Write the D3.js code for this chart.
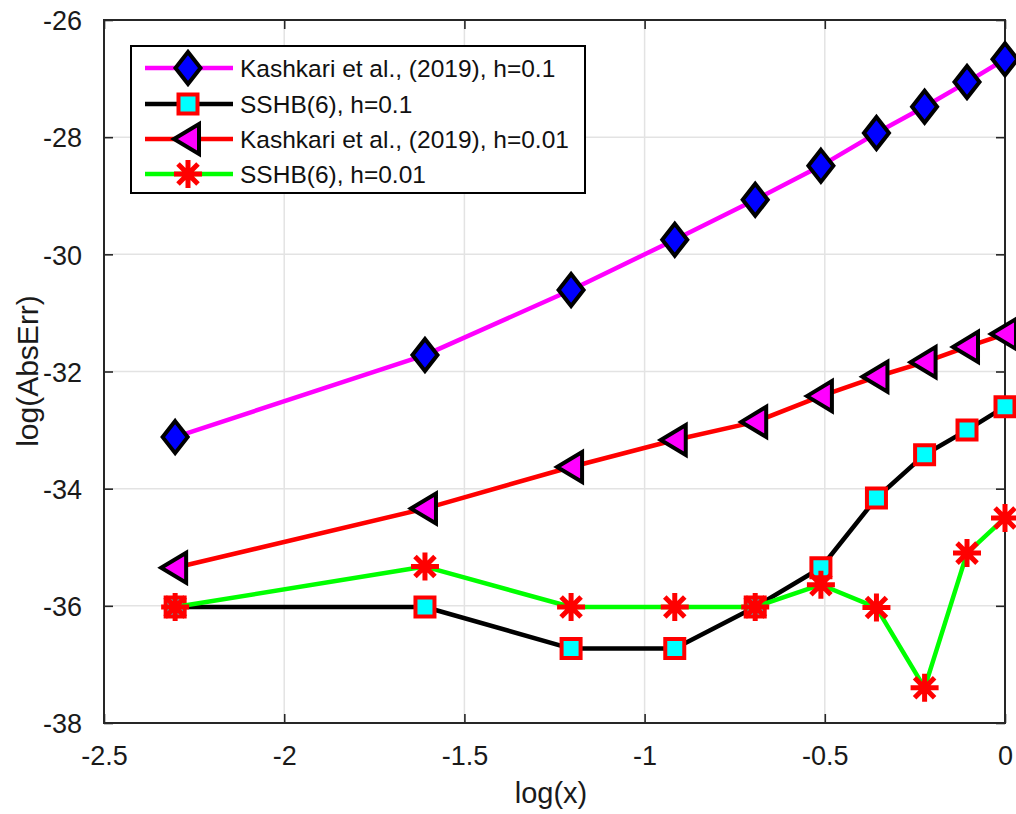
<!DOCTYPE html>
<html>
<head>
<meta charset="utf-8">
<script src="https://cdn.jsdelivr.net/npm/d3@7"></script>
<style>
  html, body { margin: 0; padding: 0; background: #ffffff; }
  svg { display: block; font-family: "Liberation Sans", Arial, Helvetica, sans-serif; }
</style>
</head>
<body>
<svg id="chart" width="1016" height="814"></svg>
<script>
// log(x) for x = 0.1 ... 1.0
const logX = [-2.3026, -1.6094, -1.2040, -0.9163, -0.6931, -0.5108, -0.3567, -0.2231, -0.1054, 0.0];

// log of absolute error for each method
const kashkariH01  = [-33.12, -31.72, -30.61, -29.75, -29.07, -28.49, -27.93, -27.48, -27.06, -26.67];
const sshbH01      = [-36.02, -36.02, -36.73, -36.73, -36.02, -35.35, -34.16, -33.42, -33.00, -32.60];
const kashkariH001 = [-35.35, -34.34, -33.63, -33.17, -32.86, -32.42, -32.09, -31.84, -31.58, -31.36];
const sshbH001     = [-36.02, -35.33, -36.02, -36.02, -36.02, -35.64, -36.03, -37.40, -35.10, -34.50];

const seriesNames = [
  "Kashkari et al., (2019), h=0.1",
  "SSHB(6), h=0.1",
  "Kashkari et al., (2019), h=0.01",
  "SSHB(6), h=0.01"
];

const xTicks = [-2.5, -2, -1.5, -1, -0.5, 0];
const yTicks = [-38, -36, -34, -32, -30, -28, -26];
const xDomain = [-2.5, 0];
const yDomain = [-38, -26];
const xLabel = "log(x)";
const yLabel = "log(AbsErr)";

const series = [
  { name: seriesNames[0], values: kashkariH01,  line: "#ff00ff", marker: "diamond",  fill: "#0000ff", edge: "#000000" },
  { name: seriesNames[1], values: sshbH01,      line: "#000000", marker: "square",   fill: "#00ffff", edge: "#ff0000" },
  { name: seriesNames[2], values: kashkariH001, line: "#ff0000", marker: "triangle", fill: "#ff00ff", edge: "#000000" },
  { name: seriesNames[3], values: sshbH001,     line: "#00ff00", marker: "asterisk", fill: "none",    edge: "#ff0000" }
];

const svg = d3.select("#chart");
const plot = { left: 104, right: 1005, top: 20, bottom: 723 };

const x = d3.scaleLinear().domain(xDomain).range([plot.left, plot.right]);
const y = d3.scaleLinear().domain(yDomain).range([plot.bottom, plot.top]);

const axisColor = "#262626";
const gridColor = "#e3e3e3";

// grid
const grid = svg.append("g");
grid.selectAll("line.gx").data(xTicks).join("line")
  .attr("x1", d => x(d)).attr("x2", d => x(d))
  .attr("y1", plot.top).attr("y2", plot.bottom)
  .attr("stroke", gridColor).attr("stroke-width", 1.5);
grid.selectAll("line.gy").data(yTicks).join("line")
  .attr("x1", plot.left).attr("x2", plot.right)
  .attr("y1", d => y(d)).attr("y2", d => y(d))
  .attr("stroke", gridColor).attr("stroke-width", 1.5);

// axes (ticks point inward, box on all four sides)
const tickLen = 9;
const fmt = d => d3.format("")(d).replace("−", "-");

const gx = svg.append("g").attr("transform", `translate(0,${plot.bottom})`)
  .call(d3.axisBottom(x).tickValues(xTicks).tickSizeInner(-tickLen).tickSizeOuter(0).tickPadding(23).tickFormat(fmt));
const gxTop = svg.append("g").attr("transform", `translate(0,${plot.top})`)
  .call(d3.axisTop(x).tickValues(xTicks).tickSizeInner(-tickLen).tickSizeOuter(0).tickFormat(""));
const gy = svg.append("g").attr("transform", `translate(${plot.left},0)`)
  .call(d3.axisLeft(y).tickValues(yTicks).tickSizeInner(-tickLen).tickSizeOuter(0).tickPadding(22).tickFormat(fmt));
const gyRight = svg.append("g").attr("transform", `translate(${plot.right},0)`)
  .call(d3.axisRight(y).tickValues(yTicks).tickSizeInner(-tickLen).tickSizeOuter(0).tickFormat(""));

[gx, gxTop, gy, gyRight].forEach(g => {
  g.select(".domain").remove();
  g.selectAll(".tick line").attr("stroke", axisColor).attr("stroke-width", 1.6);
  g.selectAll(".tick text").attr("fill", "#1a1a1a").style("font-size", "27px");
});
gx.selectAll(".tick text").attr("dy", "0.71em");
gy.selectAll(".tick text").attr("dy", "0.36em");

svg.append("rect")
  .attr("x", plot.left).attr("y", plot.top)
  .attr("width", plot.right - plot.left).attr("height", plot.bottom - plot.top)
  .attr("fill", "none").attr("stroke", axisColor).attr("stroke-width", 2);

// axis labels
svg.append("text").attr("x", 551).attr("y", 803)
  .attr("text-anchor", "middle").attr("fill", "#1a1a1a").style("font-size", "29px").text(xLabel);
svg.append("text").attr("transform", "translate(38,371) rotate(-90)")
  .attr("text-anchor", "middle").attr("fill", "#1a1a1a").style("font-size", "30px").text(yLabel);

// marker shapes
function markerPath(kind) {
  switch (kind) {
    case "diamond":  return "M0,-16L12.5,0L0,16L-12.5,0Z";
    case "square":   return "M-9.5,-9.5L9.5,-9.5L9.5,9.5L-9.5,9.5Z";
    case "triangle": return "M-14,0L11,-15L11,15Z";
    case "asterisk": return "M0,-14L0,14M-14,0L14,0M-10,-10L10,10M-10,10L10,-10";
  }
}
function drawMarker(g, s, cx, cy) {
  g.append("path")
    .attr("transform", `translate(${cx},${cy})`)
    .attr("d", markerPath(s.marker))
    .attr("fill", s.fill)
    .attr("stroke", s.edge)
    .attr("stroke-width", s.marker === "asterisk" ? 5 : 4)
    .attr("stroke-linejoin", "miter");
}

const line = d3.line().x((d, i) => x(logX[i])).y(d => y(d));

series.forEach(s => {
  const g = svg.append("g");
  g.append("path").datum(s.values)
    .attr("d", line)
    .attr("fill", "none")
    .attr("stroke", s.line)
    .attr("stroke-width", 4.5)
    .attr("stroke-linejoin", "round");
  s.values.forEach((v, i) => drawMarker(g, s, x(logX[i]), y(v)));
});

// legend
const legend = svg.append("g");
legend.append("rect")
  .attr("x", 131).attr("y", 46).attr("width", 454).attr("height", 147)
  .attr("fill", "#ffffff").attr("stroke", "#000000").attr("stroke-width", 2);
const rowY = [68, 104, 139, 174];
series.forEach((s, i) => {
  const ry = rowY[i];
  legend.append("line")
    .attr("x1", 145).attr("x2", 233).attr("y1", ry).attr("y2", ry)
    .attr("stroke", s.line).attr("stroke-width", 4.5);
  drawMarker(legend, s, 188, ry);
  legend.append("text")
    .attr("x", 240).attr("y", ry).attr("dy", "0.36em")
    .attr("fill", "#111111").style("font-size", "24.5px")
    .text(s.name);
});
</script>
</body>
</html>
